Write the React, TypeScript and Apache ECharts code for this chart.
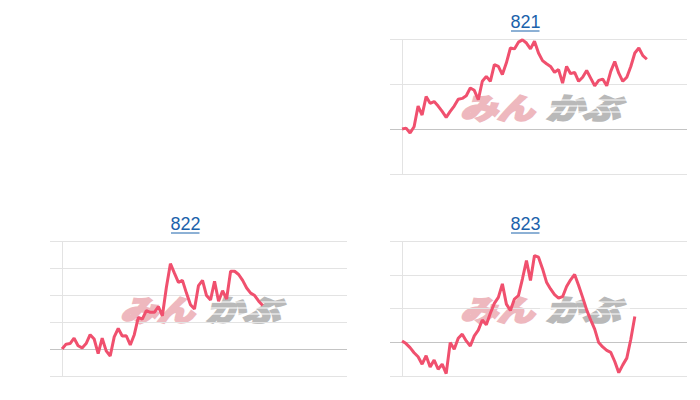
import React, { useEffect, useRef } from "react";
import * as echarts from "echarts";

// Panel titles (stock / index codes)
const titles = ["821", "822", "823"];

// Price series (relative units; 100 = reference / base line)
const values821 = [
  100, 102, 91, 105, 151, 131, 172, 157, 161, 151, 139, 126, 139, 151, 166, 168,
  174, 191, 186, 165, 206, 217, 206, 243, 239, 221, 247, 280, 278, 293, 298, 291,
  278, 295, 269, 252, 245, 239, 226, 232, 202, 239, 223, 226, 206, 215, 230, 213,
  196, 208, 211, 196, 228, 250, 224, 206, 215, 239, 269, 280, 263, 255,
];
const values822 = [
  100, 118, 120, 140, 112, 104, 120, 153, 137, 83, 140, 93, 74, 145, 176, 148,
  149, 115, 153, 217, 211, 242, 236, 236, 257, 223, 329, 416, 381, 347, 354, 307,
  264, 248, 335, 354, 298, 282, 351, 277, 316, 285, 388, 388, 376, 354, 326, 307,
  298, 277, 261,
];
const values823 = [
  104, 96, 84, 69, 57, 35, 60, 27, 47, 20, 35, 7, 99, 79, 112, 124, 104, 89, 119,
  136, 166, 152, 186, 215, 233, 273, 213, 194, 228, 238, 288, 342, 283, 357, 352,
  318, 278, 258, 241, 231, 235, 265, 285, 301, 268, 233, 196, 166, 139, 99, 86,
  76, 70, 43, 10, 33, 53, 109, 176,
];

// Y axis ranges (no labels drawn)
const yMax = [300, 500, 400];
const baseValue = 100;

const panels = [
  { left: 390, top: 39, data: values821 },
  { left: 50, top: 241, data: values822 },
  { left: 390, top: 241, data: values823 },
];

const GRID_W = 297;
const GRID_H = 135;
const LINE_COLOR = "#f0506e";
const GRID_LIGHT = "#e3e3e3";
const GRID_DARK = "#c4c4c4";
const LINK_COLOR = "#1b62ab";

export default function App() {
  const ref = useRef<HTMLDivElement>(null);

  useEffect(() => {
    if (!ref.current) return;
    const chart = echarts.init(ref.current, undefined, { renderer: "svg" });

    const grids = panels.map((p) => ({
      left: p.left,
      top: p.top,
      width: GRID_W,
      height: GRID_H,
      containLabel: false,
    }));

    const xAxes = panels.map((_, i) => ({
      type: "value",
      gridIndex: i,
      min: -3,
      max: 71,
      show: true,
      axisLine: { show: false },
      axisTick: { show: false },
      axisLabel: { show: false },
      splitLine: { show: false },
    }));

    const yAxes = panels.map((_, i) => {
      const n = yMax[i] / 100 + 1;
      const colors: string[] = [];
      for (let k = 0; k < n; k++) colors.push(k * 100 === baseValue ? GRID_DARK : GRID_LIGHT);
      return {
        type: "value",
        gridIndex: i,
        min: 0,
        max: yMax[i],
        interval: 100,
        axisLine: { show: false },
        axisTick: { show: false },
        axisLabel: { show: false },
        splitLine: { show: true, lineStyle: { color: colors, width: 1 } },
      };
    });

    const series = panels.map((p, i) => ({
      type: "line",
      xAxisIndex: i,
      yAxisIndex: i,
      data: p.data.map((v, k) => [k, v]),
      showSymbol: false,
      symbol: "none",
      lineStyle: { color: LINE_COLOR, width: 3 },
      z: 5,
      markLine: {
        silent: true,
        symbol: "none",
        label: { show: false },
        lineStyle: { color: GRID_LIGHT, width: 1, type: "solid" },
        data: [{ xAxis: 0 }],
        z: 1,
      },
    }));

    const graphics: any[] = [];
    panels.forEach((p, i) => {
      // title link
      graphics.push({
        type: "text",
        x: p.left + 135.5,
        y: p.top - 17.5,
        z: 10,
        style: {
          text: titles[i],
          fill: LINK_COLOR,
          font: '18px "Liberation Sans", Arial, sans-serif',
          align: "center",
          verticalAlign: "middle",
        },
      });
      graphics.push({
        type: "line",
        z: 10,
        shape: { x1: p.left + 121, y1: p.top - 8, x2: p.left + 149.5, y2: p.top - 8 },
        style: { stroke: LINK_COLOR, lineWidth: 1 },
      });
      // watermark logo
      graphics.push({
        type: "text",
        x: p.left + 70,
        y: p.top + 67,
        scaleX: 1.28,
        z: 0,
        style: {
          text: "みん",
          fill: "#eeb8be",
          stroke: "#eeb8be",
          lineWidth: 2.6,
          font: 'italic bold 29px "Noto Sans CJK JP", sans-serif',
          align: "left",
          verticalAlign: "middle",
        },
      });
      graphics.push({
        type: "text",
        x: p.left + 156,
        y: p.top + 67,
        scaleX: 1.28,
        z: 0,
        style: {
          text: "かぶ",
          fill: "#b9b9b9",
          stroke: "#b9b9b9",
          lineWidth: 2.6,
          font: 'italic bold 29px "Noto Sans CJK JP", sans-serif',
          align: "left",
          verticalAlign: "middle",
        },
      });
      // speed stripes across the grey part of the logo
      [61, 67, 73].forEach((dy) => {
        graphics.push({
          type: "line",
          z: 1,
          shape: { x1: p.left + 150, y1: p.top + dy, x2: p.left + 240, y2: p.top + dy },
          style: { stroke: "#ffffff", lineWidth: 1.2 },
        });
      });
    });

    chart.setOption({
      animation: false,
      backgroundColor: "#ffffff",
      grid: grids,
      xAxis: xAxes,
      yAxis: yAxes,
      series,
      graphic: { elements: graphics },
    } as any);

    return () => chart.dispose();
  }, []);

  return (
    <div
      ref={ref}
      style={{ position: "fixed", left: 0, top: 0, width: 700, height: 400 }}
    />
  );
}
